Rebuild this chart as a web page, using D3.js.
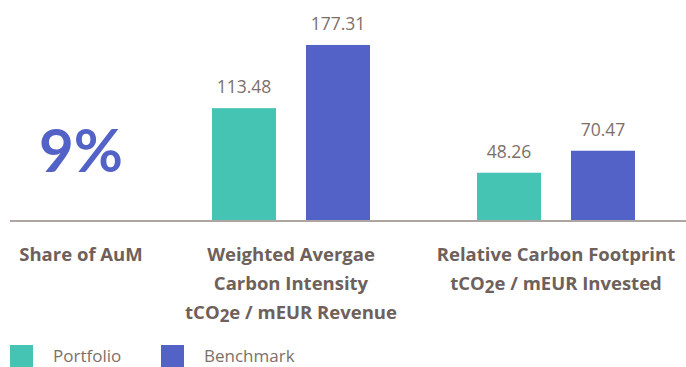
<!DOCTYPE html>
<html>
<head>
<meta charset="utf-8">
<script src="https://cdn.jsdelivr.net/npm/d3@7"></script>
<style>
  html, body { margin: 0; padding: 0; background: #fff; }
  svg { display: block; }
</style>
</head>
<body>
<svg id="chart" width="686" height="367"></svg>
<script>
// Carbon metrics: portfolio vs benchmark
const groups = ["WACI", "RCF"];
const series = ["Portfolio", "Benchmark"];
const portfolioValues = [113.48, 48.26];
const benchmarkValues = [177.31, 70.47];
const shareOfAuM = 9; // percent
const shareLabel = "Share of AuM";
const groupLabels = [
  ["Weighted Avergae", "Carbon Intensity", "tCO|2|e / mEUR Revenue"],
  ["Relative Carbon Footprint", "tCO|2|e / mEUR Invested"]
];
const colors = { Portfolio: "#45c3b3", Benchmark: "#5262c6" };

const svg = d3.select("#chart");
const W = 686, H = 367;
const baseY = 220.5;
const textColor = "#6e605a";
const valueColor = "#7c6f6a";

// Scales
const y = d3.scaleLinear().domain([0, 180]).range([baseY, baseY - 0.99 * 180]);
const x0 = d3.scaleBand().domain(groups).range([158.5, 688.5]).padding(0);
const x1 = d3.scaleBand().domain(series).range([53.5, 211.5]).paddingInner(0.319).paddingOuter(0);
const shareX = 81;

const rows = groups.map((g, i) => ({
  group: g,
  values: [
    { key: "Portfolio", value: portfolioValues[i] },
    { key: "Benchmark", value: benchmarkValues[i] }
  ]
}));

// Bars
const g = svg.selectAll("g.group").data(rows).join("g")
  .attr("class", "group")
  .attr("transform", d => `translate(${x0(d.group)},0)`);

g.selectAll("rect").data(d => d.values).join("rect")
  .attr("x", d => x1(d.key))
  .attr("width", x1.bandwidth())
  .attr("y", d => y(d.value))
  .attr("height", d => baseY - y(d.value))
  .attr("fill", d => colors[d.key]);

g.selectAll("text.val").data(d => d.values).join("text")
  .attr("class", "val")
  .attr("x", d => x1(d.key) + x1.bandwidth() / 2)
  .attr("y", d => y(d.value) - 15)
  .attr("text-anchor", "middle")
  .attr("font-family", "'Open Sans', sans-serif")
  .attr("font-size", 17.5)
  .attr("fill", valueColor)
  .text(d => d.value.toFixed(2));

// Baseline
svg.append("line")
  .attr("x1", 10).attr("x2", W)
  .attr("y1", baseY + 0.5).attr("y2", baseY + 0.5)
  .attr("stroke", "#aca5a1").attr("stroke-width", 2);

// Share of AuM figure
svg.append("text")
  .attr("x", shareX)
  .attr("y", 171.5)
  .attr("text-anchor", "middle")
  .attr("font-family", "Lato, sans-serif")
  .attr("font-weight", 700)
  .attr("font-size", 60)
  .attr("fill", colors.Benchmark)
  .text(shareOfAuM + "%");

// Category labels
function writeLine(sel, str) {
  const parts = str.split("|");
  parts.forEach((p, i) => {
    const t = sel.append("tspan").text(p);
    if (i === 1) t.attr("dy", 3).attr("font-size", 17);
    if (i === 2) t.attr("dy", -3);
  });
}
const labelFont = "'Open Sans', sans-serif";
const labelSize = 18.5;
svg.append("text")
  .attr("x", shareX).attr("y", 261)
  .attr("text-anchor", "middle")
  .attr("font-family", labelFont).attr("font-weight", 700).attr("font-size", labelSize)
  .attr("fill", textColor)
  .text(shareLabel);

groupLabels.forEach((lines, i) => {
  const cx = x0(groups[i]) + x0.bandwidth() / 2;
  lines.forEach((ln, j) => {
    const t = svg.append("text")
      .attr("x", cx).attr("y", 261 + j * 29)
      .attr("text-anchor", "middle")
      .attr("font-family", labelFont).attr("font-weight", 700).attr("font-size", labelSize)
      .attr("fill", textColor);
    writeLine(t, ln);
  });
});

// Legend
const legend = svg.append("g");
const legendX = [10, 161];
series.forEach((s, i) => {
  legend.append("rect")
    .attr("x", legendX[i]).attr("y", 345)
    .attr("width", 23).attr("height", 23)
    .attr("fill", colors[s]);
  legend.append("text")
    .attr("x", legendX[i] + 43).attr("y", 362)
    .attr("font-family", "'Open Sans', sans-serif")
    .attr("font-size", 17)
    .attr("fill", valueColor)
    .text(s);
});
</script>
</body>
</html>
